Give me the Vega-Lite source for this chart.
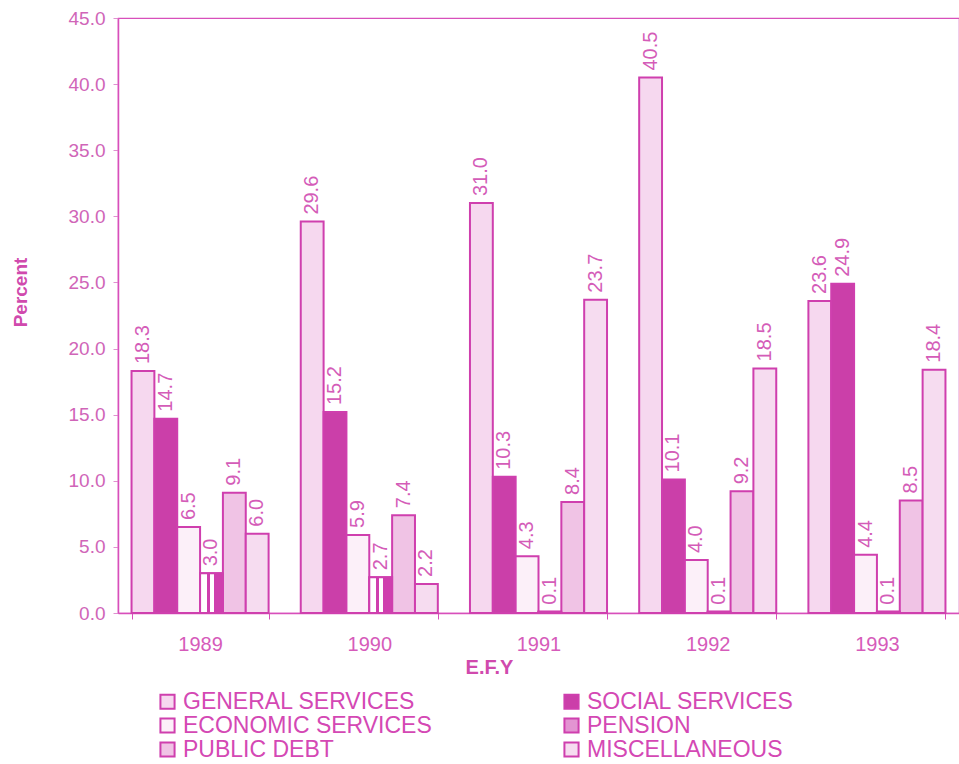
{
  "$schema": "https://vega.github.io/schema/vega-lite/v6.json",
  "width": 841,
  "height": 595,
  "autosize": {"type": "none"},
  "padding": {"left": 118, "top": 18, "right": 0, "bottom": 151},
  "background": "white",
  "config": {
    "font": "Liberation Sans",
    "view": {"stroke": "#d84fbb", "strokeWidth": 1.2}
  },
  "data": {
    "values": [
      {"year": "1989", "cat": "GENERAL SERVICES", "value": 18.3},
      {"year": "1989", "cat": "SOCIAL SERVICES", "value": 14.7},
      {"year": "1989", "cat": "ECONOMIC SERVICES", "value": 6.5},
      {"year": "1989", "cat": "PENSION", "value": 3.0},
      {"year": "1989", "cat": "PUBLIC DEBT", "value": 9.1},
      {"year": "1989", "cat": "MISCELLANEOUS", "value": 6.0},
      {"year": "1990", "cat": "GENERAL SERVICES", "value": 29.6},
      {"year": "1990", "cat": "SOCIAL SERVICES", "value": 15.2},
      {"year": "1990", "cat": "ECONOMIC SERVICES", "value": 5.9},
      {"year": "1990", "cat": "PENSION", "value": 2.7},
      {"year": "1990", "cat": "PUBLIC DEBT", "value": 7.4},
      {"year": "1990", "cat": "MISCELLANEOUS", "value": 2.2},
      {"year": "1991", "cat": "GENERAL SERVICES", "value": 31.0},
      {"year": "1991", "cat": "SOCIAL SERVICES", "value": 10.3},
      {"year": "1991", "cat": "ECONOMIC SERVICES", "value": 4.3},
      {"year": "1991", "cat": "PENSION", "value": 0.1},
      {"year": "1991", "cat": "PUBLIC DEBT", "value": 8.4},
      {"year": "1991", "cat": "MISCELLANEOUS", "value": 23.7},
      {"year": "1992", "cat": "GENERAL SERVICES", "value": 40.5},
      {"year": "1992", "cat": "SOCIAL SERVICES", "value": 10.1},
      {"year": "1992", "cat": "ECONOMIC SERVICES", "value": 4.0},
      {"year": "1992", "cat": "PENSION", "value": 0.1},
      {"year": "1992", "cat": "PUBLIC DEBT", "value": 9.2},
      {"year": "1992", "cat": "MISCELLANEOUS", "value": 18.5},
      {"year": "1993", "cat": "GENERAL SERVICES", "value": 23.6},
      {"year": "1993", "cat": "SOCIAL SERVICES", "value": 24.9},
      {"year": "1993", "cat": "ECONOMIC SERVICES", "value": 4.4},
      {"year": "1993", "cat": "PENSION", "value": 0.1},
      {"year": "1993", "cat": "PUBLIC DEBT", "value": 8.5},
      {"year": "1993", "cat": "MISCELLANEOUS", "value": 18.4}
    ]
  },
  "encoding": {
    "x": {
      "field": "year",
      "type": "nominal",
      "scale": {"paddingInner": 0.19, "paddingOuter": 0.08},
      "axis": {
        "labelAngle": 0,
        "tickBand": "extent",
        "tickSize": 6,
        "labelPadding": 15,
        "labelFontSize": 20,
        "labelColor": "#d65bba",
        "domainColor": "#d84fbb",
        "domainWidth": 1.5,
        "tickColor": "#d84fbb",
        "title": "E.F.Y",
        "titleFontSize": 20,
        "titleFontWeight": "bold",
        "titleColor": "#d04aad",
        "titlePadding": 3,
        "titleX": 371,
        "titleAlign": "center"
      }
    },
    "xOffset": {
      "field": "cat",
      "type": "nominal",
      "sort": ["GENERAL SERVICES", "SOCIAL SERVICES", "ECONOMIC SERVICES", "PENSION", "PUBLIC DEBT", "MISCELLANEOUS"],
      "scale": {"padding": 0}
    },
    "y": {
      "field": "value",
      "type": "quantitative",
      "scale": {"domain": [0, 45], "nice": false},
      "axis": {
        "values": [0, 5, 10, 15, 20, 25, 30, 35, 40, 45],
        "format": ".1f",
        "grid": false,
        "tickSize": 5,
        "labelPadding": 8,
        "labelFontSize": 19,
        "labelColor": "#d065b8",
        "domainColor": "#d84fbb",
        "domainWidth": 1.5,
        "tickColor": "#e090d0",
        "title": "Percent",
        "titleFontSize": 19,
        "titleFontWeight": "bold",
        "titleColor": "#d04aad",
        "titleAngle": 270,
        "titleX": -98,
        "titleY": 274,
        "titleAlign": "center",
        "titleBaseline": "middle"
      }
    }
  },
  "layer": [
    {
      "mark": {"type": "bar", "stroke": "#cf3fae", "strokeWidth": 2},
      "encoding": {
        "color": {
          "field": "cat",
          "type": "nominal",
          "sort": ["GENERAL SERVICES", "SOCIAL SERVICES", "ECONOMIC SERVICES", "PENSION", "PUBLIC DEBT", "MISCELLANEOUS"],
          "scale": {
            "domain": ["GENERAL SERVICES", "SOCIAL SERVICES", "ECONOMIC SERVICES", "PENSION", "PUBLIC DEBT", "MISCELLANEOUS"],
            "range": ["#f6d8ef", "#cb3fa9", "#fcf0f9", "#e394d2", "#f0c3e5", "#f6dcf0"]
          },
          "legend": {
            "orient": "none",
            "direction": "horizontal",
            "legendX": 38,
            "legendY": 672,
            "columns": 2,
            "columnPadding": 128,
            "rowPadding": 0,
            "title": null,
            "symbolType": "square",
            "symbolSize": 200,
            "symbolStrokeColor": "#cf3fae",
            "symbolStrokeWidth": 2,
            "symbolOpacity": 1,
            "labelFontSize": 23,
            "labelColor": "#d448b4",
            "labelOffset": 4,
            "labelLimit": 0
          }
        }
      }
    },
    {
      "transform": [{"filter": "datum.cat === 'PENSION'"}],
      "mark": {
        "type": "bar",
        "stroke": "#cf3fae",
        "strokeWidth": 2,
        "fill": {
          "gradient": "linear", "x1": 0, "y1": 0, "x2": 1, "y2": 0,
          "stops": [
            {"offset": 0, "color": "#ffffff"},
            {"offset": 0.3, "color": "#ffffff"},
            {"offset": 0.3, "color": "#cf3fae"},
            {"offset": 0.42, "color": "#cf3fae"},
            {"offset": 0.42, "color": "#ffffff"},
            {"offset": 0.62, "color": "#ffffff"},
            {"offset": 0.62, "color": "#cf3fae"},
            {"offset": 1, "color": "#cf3fae"}
          ]
        }
      },
      "encoding": {}
    },
    {
      "mark": {"type": "text", "angle": 270, "align": "left", "baseline": "middle", "dx": 7, "fontSize": 20, "color": "#d45cb8"},
      "encoding": {
        "text": {"field": "value", "type": "quantitative", "format": ".1f"}
      }
    }
  ]
}
